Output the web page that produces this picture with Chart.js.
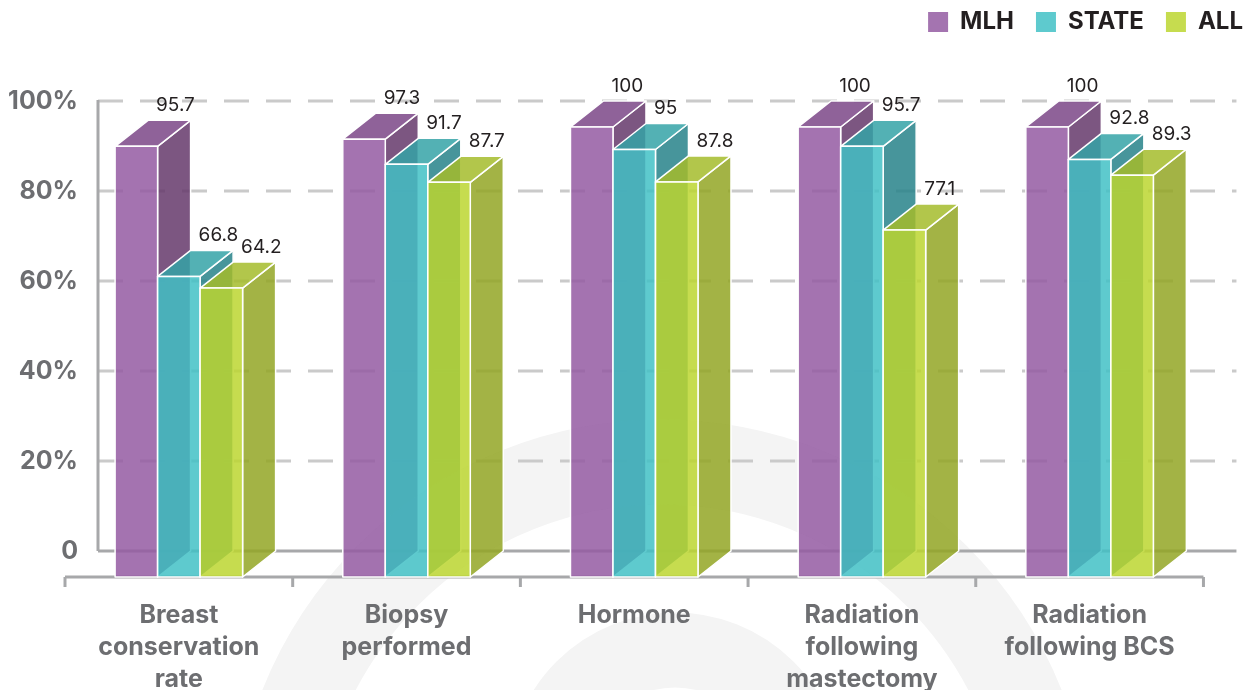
<!DOCTYPE html>
<html lang="en">
<head>
<meta charset="UTF-8" />
<title>Quality measures – MLH vs State vs All</title>
<script src="https://cdn.jsdelivr.net/npm/chart.js"></script>
<style>
  html, body { margin: 0; padding: 0; background: #fff; }
  #wrap { width: 1248px; height: 690px; position: relative; }
</style>
</head>
<body>
<div id="wrap"><canvas id="chart"></canvas></div>
<script>
// ---- data ----
const categories = [
  ["Breast", "conservation", "rate"],
  ["Biopsy", "performed"],
  ["Hormone"],
  ["Radiation", "following", "mastectomy"],
  ["Radiation", "following BCS"]
];
const seriesNames = ["MLH", "STATE", "ALL"];
const mlhValues = [95.7, 97.3, 100, 100, 100];
const stateValues = [66.8, 91.7, 95, 95.7, 92.8];
const allValues = [64.2, 87.7, 87.8, 77.1, 89.3];
const yTicks = [0, 20, 40, 60, 80, 100];

// ---- look ----
const DX = 33, DY = 26;      // depth of the fake 3d boxes (front = back shifted left/down)
const ALPHA = 0.85;          // boxes are see-through, overlaps darken like in the original
const faceColors = [
  { front: "#a474b0", top: "#8f6399", side: "#7c5681" },
  { front: "#5ecace", top: "#53b1b4", side: "#47969b" },
  { front: "#c6dc4f", top: "#b2c64b", side: "#a3b345" }
];
const FONT = "Inter";
const LEGEND_PAD = 22;

// colour that shows up as `hex` on white when painted with ALPHA
function seeThrough(hex) {
  const n = parseInt(hex.slice(1), 16);
  const c = [n >> 16, (n >> 8) & 255, n & 255]
    .map(v => Math.max(0, Math.round((v - 255 * (1 - ALPHA)) / ALPHA)));
  return `rgba(${c.join(",")},${ALPHA})`;
}

function poly(ctx, pts, fill) {
  ctx.beginPath();
  ctx.moveTo(pts[0][0], pts[0][1]);
  for (let i = 1; i < pts.length; i++) ctx.lineTo(pts[i][0], pts[i][1]);
  ctx.closePath();
  ctx.fillStyle = fill;
  ctx.fill();
  ctx.stroke();
}

function line(ctx, x1, y1, x2, y2) {
  ctx.beginPath();
  ctx.moveTo(x1, y1);
  ctx.lineTo(x2, y2);
  ctx.stroke();
}

const backdrop = {
  id: "backdrop",
  afterLayout(chart) {
    // legend sits tighter to the top right corner than chart.js puts it
    const lg = chart.legend;
    lg.left += LEGEND_PAD - 1; lg.right += LEGEND_PAD - 1;
    lg.top -= LEGEND_PAD - 10; lg.bottom -= LEGEND_PAD - 10;
  },
  beforeDraw(chart) {
    // faint logo watermark
    const ctx = chart.ctx;
    ctx.save();
    ctx.strokeStyle = "#f4f4f4";
    ctx.lineWidth = 85;
    ctx.beginPath();
    ctx.arc(662, 850, 388, Math.PI, 2 * Math.PI);
    ctx.stroke();
    ctx.lineWidth = 75;
    ctx.beginPath();
    ctx.arc(675, 780, 130, Math.PI, 2 * Math.PI);
    ctx.stroke();
    ctx.restore();
  },
  beforeDatasetsDraw(chart) {
    const ctx = chart.ctx;
    const { left, right } = chart.chartArea;
    const y = chart.scales.y, x = chart.scales.x;
    const y0 = y.getPixelForValue(0);
    ctx.save();
    // dashed grid on the back wall
    ctx.lineWidth = 3;
    ctx.strokeStyle = "#cacaca";
    ctx.setLineDash([25, 17]);
    yTicks.filter(v => v > 0).forEach(v => {
      const py = y.getPixelForValue(v);
      line(ctx, left, py, right, py);
    });
    ctx.setLineDash([]);
    // back wall axis + floor
    ctx.strokeStyle = "#a7a8aa";
    line(ctx, left, y.getPixelForValue(yTicks[yTicks.length - 1]) - 1, left, y0);
    line(ctx, left, y0, right, y0);
    // front axis with category ticks
    const fy = y0 + DY;
    line(ctx, left - DX, fy, right - DX, fy);
    for (let i = 0; i <= categories.length; i++) {
      const bx = x.getPixelForValue(i - 0.5) - DX;
      line(ctx, bx, fy, bx, fy + 10);
    }
    ctx.restore();
  },
  afterDatasetsDraw(chart) {
    const ctx = chart.ctx;
    ctx.save();
    ctx.lineJoin = "round";
    ctx.strokeStyle = "#ffffff";
    ctx.lineWidth = 1.5;
    for (let i = 0; i < categories.length; i++) {
      chart.data.datasets.forEach((ds, d) => {
        const bar = chart.getDatasetMeta(d).data[i];
        const c = faceColors[d];
        const bl = bar.x - bar.width / 2, br = bar.x + bar.width / 2;
        const bt = bar.y, bb = bar.base;
        const fl = bl - DX, fr = br - DX, ft = bt + DY, fb = bb + DY;
        poly(ctx, [[fr, ft], [br, bt], [br, bb], [fr, fb]], seeThrough(c.side));
        poly(ctx, [[fl, ft], [bl, bt], [br, bt], [fr, ft]], seeThrough(c.top));
        poly(ctx, [[fl, ft], [fr, ft], [fr, fb], [fl, fb]], seeThrough(c.front));
      });
    }
    // value labels above the back edge of each box
    ctx.fillStyle = "#231f20";
    ctx.font = `19px ${FONT}`;
    ctx.textAlign = "left";
    ctx.textBaseline = "middle";
    chart.data.datasets.forEach((ds, d) => {
      chart.getDatasetMeta(d).data.forEach((bar, i) => {
        ctx.fillText(String(ds.data[i]), bar.x - bar.width / 2 + 8, bar.y - 15);
      });
    });
    ctx.restore();
  }
};

const seriesData = [mlhValues, stateValues, allValues];

new Chart(document.getElementById("chart"), {
  type: "bar",
  data: {
    labels: categories,
    datasets: seriesNames.map((name, d) => ({
      label: name,
      data: seriesData[d],
      backgroundColor: "rgba(0,0,0,0)",
      borderWidth: 0,
      barPercentage: 1,
      categoryPercentage: 0.56
    }))
  },
  options: {
    responsive: true,
    maintainAspectRatio: false,
    animation: false,
    layout: { padding: { left: 0, right: 4, top: 0, bottom: 0 } },
    plugins: {
      tooltip: { enabled: false },
      legend: {
        position: "top",
        align: "end",
        labels: {
          boxWidth: 20,
          boxHeight: 20,
          padding: LEGEND_PAD,
          color: "#231f20",
          font: { family: FONT, weight: "bold", size: 24 },
          generateLabels: chart => chart.data.datasets.map((ds, d) => ({
            text: ds.label,
            fillStyle: faceColors[d].front,
            strokeStyle: faceColors[d].front,
            lineWidth: 0,
            fontColor: "#231f20",
            datasetIndex: d
          }))
        }
      },
      // empty spacer between the legend and the plot
      subtitle: {
        display: true,
        text: "",
        weight: 500,
        font: { size: 10 },
        padding: { top: 0, bottom: 33 }
      }
    },
    scales: {
      x: {
        offset: true,
        grid: { display: false },
        border: { display: false },
        ticks: {
          color: "#6d6e71",
          font: { family: FONT, weight: "bold", size: 25, lineHeight: 1.28 },
          padding: 40,
          labelOffset: -DX,
          maxRotation: 0,
          autoSkip: false
        },
        afterFit(s) { s.height = 139; }
      },
      y: {
        min: 0,
        max: 100,
        grid: { display: false },
        border: { display: false },
        afterBuildTicks(s) { s.ticks = yTicks.map(v => ({ value: v })); },
        ticks: {
          color: "#6d6e71",
          font: { family: FONT, weight: "bold", size: 25 },
          padding: 12,
          callback: v => (v === 0 ? "0" : v + "%")
        },
        afterFit(s) { s.width = 98; }
      }
    }
  },
  plugins: [backdrop]
});
</script>
</body>
</html>
